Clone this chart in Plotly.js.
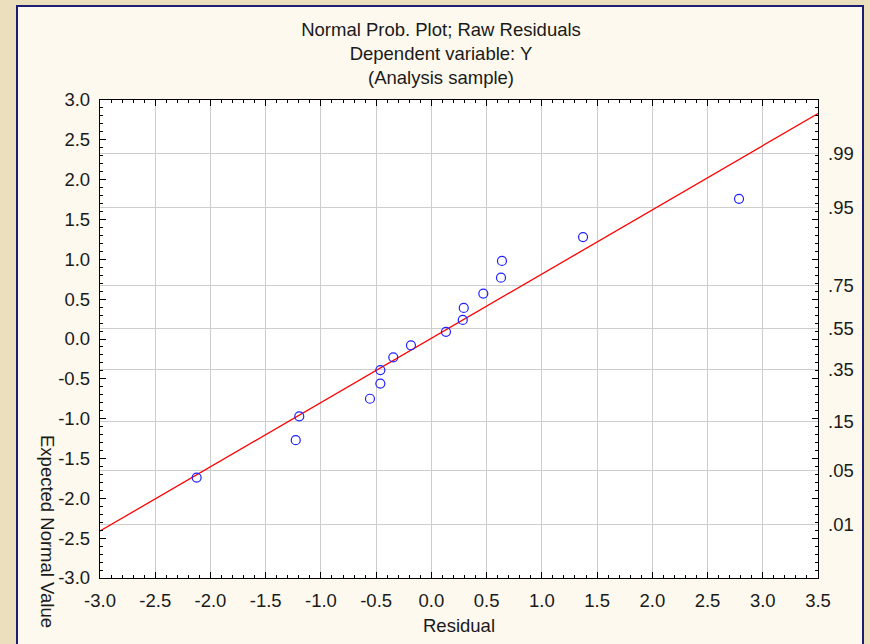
<!DOCTYPE html>
<html>
<head>
<meta charset="utf-8">
<script src="https://cdn.plot.ly/plotly-3.0.1.min.js"></script>
<style>
  html, body { margin: 0; padding: 0; width: 870px; height: 644px; overflow: hidden;
    background: #ecdfbd; }
  #frame { position: absolute; left: 16px; top: 5px; width: 848px; height: 660px;
    border: 2px solid #1d1d72; background: #fdf9ee; box-sizing: border-box; }
  #chart { position: absolute; left: 0; top: 0; width: 870px; height: 644px; }
</style>
</head>
<body>
<div id="frame"></div>
<div id="chart"></div>
<script>
// Residuals (x) and expected normal values (y)
const residuals = [-2.125, -1.228, -1.196, -0.556, -0.462, -0.462, -0.345, -0.185,
                   0.132, 0.284, 0.293, 0.470, 0.630, 0.639, 1.373, 2.785];
const expected  = [-1.74, -1.27, -0.97, -0.75, -0.56, -0.39, -0.23, -0.08,
                   0.09, 0.24, 0.39, 0.57, 0.77, 0.98, 1.28, 1.76];
// Reference (fit) line endpoints
const fitX = [-3.0, 3.5];
const fitY = [-2.41, 2.83];
// Axis ticks
const xTickVals = [-3.0, -2.5, -2.0, -1.5, -1.0, -0.5, 0.0, 0.5, 1.0, 1.5, 2.0, 2.5, 3.0, 3.5];
const xTickText = ['-3.0','-2.5','-2.0','-1.5','-1.0','-0.5','0.0','0.5','1.0','1.5','2.0','2.5','3.0','3.5'];
const yTickVals = [-3.0, -2.5, -2.0, -1.5, -1.0, -0.5, 0.0, 0.5, 1.0, 1.5, 2.0, 2.5, 3.0];
const yTickText = ['-3.0','-2.5','-2.0','-1.5','-1.0','-0.5','0.0','0.5','1.0','1.5','2.0','2.5','3.0'];
// Right-hand probability scale
const probZ = [-2.326, -1.645, -1.036, -0.385, 0.126, 0.674, 1.645, 2.326];
const probLabels = ['.01', '.05', '.15', '.35', '.55', '.75', '.95', '.99'];

const FONT = 'Liberation Sans, Arial, sans-serif';
const GRID = '#cdcdcd';
const FS = 18.5;

const traces = [
  {
    x: fitX, y: fitY, type: 'scatter', mode: 'lines',
    line: { color: '#ff0000', width: 1.3 }, hoverinfo: 'skip', showlegend: false
  },
  {
    x: residuals, y: expected, type: 'scatter', mode: 'markers',
    marker: { symbol: 'circle-open', size: 9, color: '#2020ff', line: { width: 1.2, color: '#2020ff' } },
    showlegend: false
  },
  {
    x: [null], y: [null], yaxis: 'y2', type: 'scatter', mode: 'markers',
    showlegend: false, hoverinfo: 'skip'
  }
];

const layout = {
  width: 870, height: 644,
  paper_bgcolor: 'rgba(0,0,0,0)',
  plot_bgcolor: '#ffffff',
  margin: { l: 100, r: 52, t: 100, b: 66 },
  font: { family: FONT, size: FS, color: '#1a1a1a' },
  title: {
    text: 'Normal Prob. Plot; Raw Residuals<br>Dependent variable: Y<br>(Analysis sample)',
    font: { family: FONT, size: FS, color: '#1a1a1a' },
    xref: 'container', x: 441 / 870, xanchor: 'center',
    yref: 'container', y: 1 - 36 / 644, yanchor: 'top'
  },
  xaxis: {
    range: [-3, 3.5],
    tickmode: 'array', tickvals: xTickVals, ticktext: xTickText,
    ticks: 'inside', ticklen: 6, tickcolor: '#000', tickwidth: 1,
    minor: { tickmode: 'linear', tick0: -3, dtick: 0.1, ticks: 'inside', ticklen: 3, tickcolor: '#000', showgrid: false },
    mirror: 'ticks', showline: true, linecolor: '#000', linewidth: 1.2,
    showgrid: true, gridcolor: GRID, gridwidth: 1, zeroline: false,
    ticklabelstandoff: 6,
    title: { text: 'Residual', font: { family: FONT, size: FS }, standoff: 8 }
  },
  yaxis: {
    range: [-3, 3],
    tickmode: 'array', tickvals: yTickVals, ticktext: yTickText,
    ticks: 'inside', ticklen: 6, tickcolor: '#000', tickwidth: 1,
    minor: { tickmode: 'linear', tick0: -3, dtick: 0.1, ticks: 'inside', ticklen: 3, tickcolor: '#000', showgrid: false },
    mirror: 'ticks', showline: true, linecolor: '#000', linewidth: 1.2,
    showgrid: false, zeroline: false,
    ticklabelstandoff: 5
  },
  yaxis2: {
    overlaying: 'y', side: 'right', range: [-3, 3],
    tickmode: 'array', tickvals: probZ, ticktext: probLabels,
    ticks: '', showline: false, zeroline: false,
    showgrid: true, gridcolor: GRID, gridwidth: 1,
    ticklabelstandoff: 9
  },
  annotations: [
    {
      text: 'Expected Normal Value', textangle: 90, showarrow: false,
      xref: 'paper', yref: 'paper',
      x: (48 - 100) / 718, y: (578 - 531) / 478,
      xanchor: 'center', yanchor: 'middle',
      font: { family: FONT, size: FS, color: '#1a1a1a' }
    }
  ]
};

Plotly.newPlot('chart', traces, layout, { displayModeBar: false, staticPlot: true });
</script>
</body>
</html>
